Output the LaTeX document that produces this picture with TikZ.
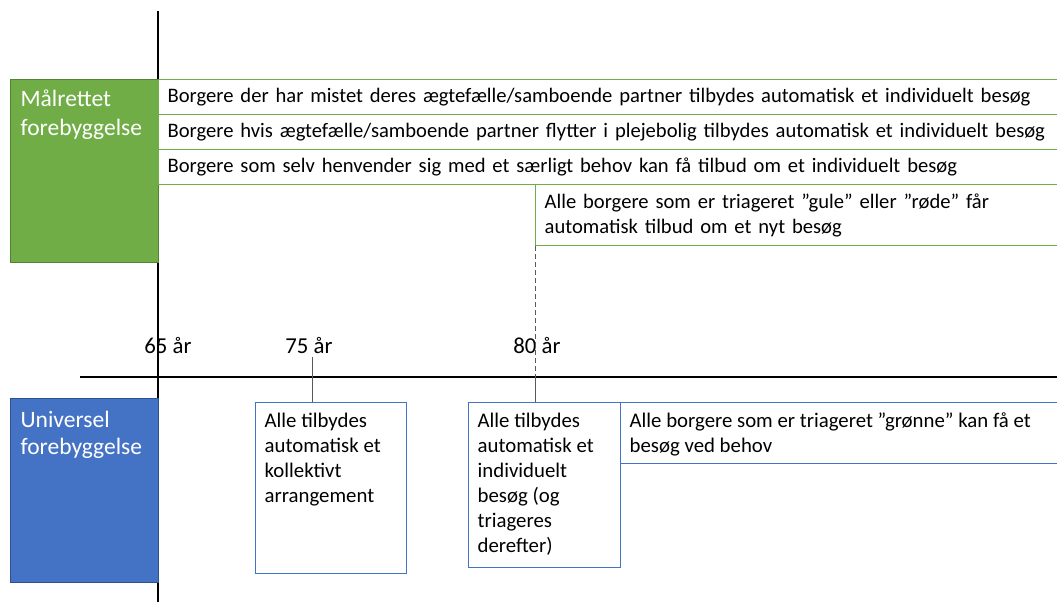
\documentclass[tikz,border=0pt]{standalone}
\usepackage{fontspec}
\setmainfont{Carlito}
\definecolor{grn}{HTML}{70AD47}
\definecolor{grnd}{HTML}{548235}
\definecolor{blu}{HTML}{4472C4}
\definecolor{blud}{HTML}{2F528F}
\definecolor{tickc}{HTML}{595959}
\begin{document}
\begin{tikzpicture}[x=1pt,y=-1pt,
  axis/.style={draw=black, line width=1.6pt},
  tickline/.style={draw=tickc, line width=0.9pt},
  rowbox/.style={draw=grn, line width=1.3pt, anchor=north west, inner xsep=9pt, inner ysep=0pt, align=left, font=\fontsize{20.6}{25}\selectfont},
  ubox/.style={draw=blu, line width=1.3pt, anchor=north west, inner xsep=9pt, inner ysep=0pt, font=\fontsize{20.8}{25}\selectfont},
  catbox/.style={anchor=north west, line width=1.3pt, inner xsep=10pt, inner ysep=0pt, text=white, font=\fontsize{23.5}{29}\selectfont},
  agelabel/.style={anchor=base, inner sep=0pt, font=\fontsize{22.8}{27}\selectfont}]
\clip (0,0) rectangle (1057,602);
% axes
\coordinate (vtop) at (158,11);
\coordinate (vbot) at (158,604);
\coordinate (hl) at (80,377);
\coordinate (hr) at (1060,377);
\draw[axis] (vtop) -- (vbot);
\draw[axis] (hl) -- (hr);
% category boxes
\node[catbox, draw=grnd, fill=grn] (malr) at (10,79)
  {\parbox[c][183pt][t]{128pt}{\rule{0pt}{27pt}Målrettet\\forebyggelse}};
\node[catbox, draw=blud, fill=blu] (univ) at (10,398)
  {\parbox[c][184pt][t]{128pt}{\rule{0pt}{29pt}Universel\\[-2pt]forebyggelse}};
% targeted rows
\node[rowbox, text width=900pt, minimum height=35pt] (r1) at (158,79)
  {Borgere der har mistet deres ægtefælle/samboende partner tilbydes automatisk et individuelt besøg};
\node[rowbox, text width=900pt, minimum height=35pt] (r2) at (158,114)
  {Borgere hvis ægtefælle/samboende partner flytter i plejebolig tilbydes automatisk et individuelt besøg};
\node[rowbox, text width=900pt, minimum height=35pt] (r3) at (158,149)
  {Borgere som selv henvender sig med et særligt behov kan få tilbud om et individuelt besøg};
\node[rowbox, text width=520pt, minimum height=61pt] (r4) at (535,184)
  {Alle borgere som er triageret ”gule” eller ”røde” får\\automatisk tilbud om et nyt besøg};
% age labels
\node[agelabel] (a65) at (168,353) {65 år};
\node[agelabel] (a75) at (309,353) {75 år};
\node[agelabel] (a80) at (537,353) {80 år};
% universal boxes
\node[ubox] (b75) at (255,402)
  {\parbox[c][171pt][t]{133pt}{\rule{0pt}{25pt}Alle tilbydes\\automatisk et\\kollektivt\\arrangement}};
\node[ubox] (b80) at (468,402)
  {\parbox[c][165pt][t]{134pt}{\rule{0pt}{25pt}Alle tilbydes\\automatisk et\\individuelt\\besøg (og\\triageres\\derefter)}};
\node[ubox] (bgr) at (620,402)
  {\parbox[c][61pt][t]{440pt}{\rule{0pt}{25pt}Alle borgere som er triageret ”grønne” kan få et\\besøg ved behov}};
% ticks
\coordinate (t75) at (312,357);
\draw[tickline] (t75) -- (t75 |- b75.north);
\draw[tickline, dash pattern=on 5pt off 3pt] (r4.south west) -- (r4.south west |- hl);
\draw[tickline] (r4.south west |- hl) -- (r4.south west |- b80.north);
\end{tikzpicture}
\end{document}
